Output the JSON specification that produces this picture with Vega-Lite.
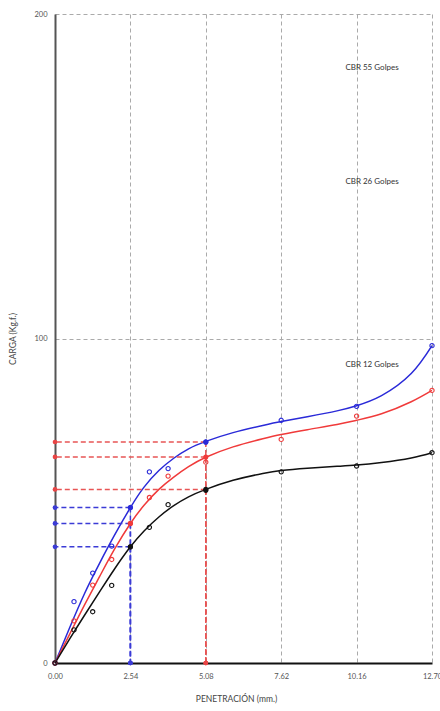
{
  "$schema": "https://vega.github.io/schema/vega-lite/v6.json",
  "autosize": "none",
  "width": 377,
  "height": 649,
  "padding": {"left": 55, "top": 14, "right": 8, "bottom": 48},
  "background": "white",
  "config": {
    "font": "Lato",
    "view": {"stroke": null},
    "axis": {"labelFont": "Lato", "titleFont": "Lato", "labelFontSize": 7.5, "titleFontSize": 8.5, "labelColor": "#555", "titleColor": "#444", "titleFontWeight": "normal", "ticks": false, "gridDash": [4, 3], "gridColor": "#aaa", "gridWidth": 1}
  },
  "datasets": {
    "curva": [
      {"serie": "55 golpes", "x": 0, "carga": 0}, {"serie": "55 golpes", "x": 0.5, "carga": 11}, {"serie": "55 golpes", "x": 1.0, "carga": 21.5}, {"serie": "55 golpes", "x": 1.5, "carga": 30.7}, {"serie": "55 golpes", "x": 2.0, "carga": 39.3}, {"serie": "55 golpes", "x": 2.54, "carga": 47.9}, {"serie": "55 golpes", "x": 3.0, "carga": 54.2}, {"serie": "55 golpes", "x": 3.5, "carga": 59.3}, {"serie": "55 golpes", "x": 4.0, "carga": 63.1}, {"serie": "55 golpes", "x": 4.5, "carga": 66}, {"serie": "55 golpes", "x": 5.08, "carga": 68.3}, {"serie": "55 golpes", "x": 6.0, "carga": 71}, {"serie": "55 golpes", "x": 7.0, "carga": 73.2}, {"serie": "55 golpes", "x": 7.62, "carga": 74.4}, {"serie": "55 golpes", "x": 8.5, "carga": 75.9}, {"serie": "55 golpes", "x": 9.5, "carga": 77.7}, {"serie": "55 golpes", "x": 10.16, "carga": 79.3}, {"serie": "55 golpes", "x": 11.0, "carga": 82.4}, {"serie": "55 golpes", "x": 12.0, "carga": 89.2}, {"serie": "55 golpes", "x": 12.7, "carga": 97.8},
      {"serie": "26 golpes", "x": 0, "carga": 0}, {"serie": "26 golpes", "x": 0.5, "carga": 9}, {"serie": "26 golpes", "x": 1.0, "carga": 18}, {"serie": "26 golpes", "x": 1.5, "carga": 26.6}, {"serie": "26 golpes", "x": 2.0, "carga": 35}, {"serie": "26 golpes", "x": 2.54, "carga": 43}, {"serie": "26 golpes", "x": 3.0, "carga": 48.6}, {"serie": "26 golpes", "x": 3.5, "carga": 53.5}, {"serie": "26 golpes", "x": 4.0, "carga": 57.3}, {"serie": "26 golpes", "x": 4.5, "carga": 60.5}, {"serie": "26 golpes", "x": 5.08, "carga": 63.4}, {"serie": "26 golpes", "x": 6.0, "carga": 66.6}, {"serie": "26 golpes", "x": 7.0, "carga": 69.1}, {"serie": "26 golpes", "x": 7.62, "carga": 70.4}, {"serie": "26 golpes", "x": 8.5, "carga": 71.9}, {"serie": "26 golpes", "x": 9.5, "carga": 73.5}, {"serie": "26 golpes", "x": 10.16, "carga": 74.8}, {"serie": "26 golpes", "x": 11.0, "carga": 76.8}, {"serie": "26 golpes", "x": 12.0, "carga": 80.5}, {"serie": "26 golpes", "x": 12.7, "carga": 84},
      {"serie": "12 golpes", "x": 0, "carga": 0}, {"serie": "12 golpes", "x": 0.5, "carga": 7.5}, {"serie": "12 golpes", "x": 1.0, "carga": 14.8}, {"serie": "12 golpes", "x": 1.5, "carga": 21.9}, {"serie": "12 golpes", "x": 2.0, "carga": 28.9}, {"serie": "12 golpes", "x": 2.54, "carga": 35.8}, {"serie": "12 golpes", "x": 3.0, "carga": 40.7}, {"serie": "12 golpes", "x": 3.5, "carga": 45}, {"serie": "12 golpes", "x": 4.0, "carga": 48.5}, {"serie": "12 golpes", "x": 4.5, "carga": 51.2}, {"serie": "12 golpes", "x": 5.08, "carga": 53.5}, {"serie": "12 golpes", "x": 6.0, "carga": 56.3}, {"serie": "12 golpes", "x": 7.0, "carga": 58.4}, {"serie": "12 golpes", "x": 7.62, "carga": 59.3}, {"serie": "12 golpes", "x": 8.5, "carga": 60}, {"serie": "12 golpes", "x": 9.5, "carga": 60.6}, {"serie": "12 golpes", "x": 10.16, "carga": 61}, {"serie": "12 golpes", "x": 11.0, "carga": 61.8}, {"serie": "12 golpes", "x": 12.0, "carga": 63.2}, {"serie": "12 golpes", "x": 12.7, "carga": 64.8}
    ],
    "obs": [
      {"serie": "55 golpes", "x": 0, "carga": 0}, {"serie": "55 golpes", "x": 0.64, "carga": 18.9}, {"serie": "55 golpes", "x": 1.27, "carga": 27.7}, {"serie": "55 golpes", "x": 1.91, "carga": 36}, {"serie": "55 golpes", "x": 2.54, "carga": 47.9}, {"serie": "55 golpes", "x": 3.18, "carga": 58.9}, {"serie": "55 golpes", "x": 3.81, "carga": 59.9}, {"serie": "55 golpes", "x": 5.08, "carga": 68.1}, {"serie": "55 golpes", "x": 7.62, "carga": 74.8}, {"serie": "55 golpes", "x": 10.16, "carga": 79.1}, {"serie": "55 golpes", "x": 12.7, "carga": 97.8},
      {"serie": "26 golpes", "x": 0, "carga": 0}, {"serie": "26 golpes", "x": 0.64, "carga": 13}, {"serie": "26 golpes", "x": 1.27, "carga": 24}, {"serie": "26 golpes", "x": 1.91, "carga": 31.9}, {"serie": "26 golpes", "x": 2.54, "carga": 43}, {"serie": "26 golpes", "x": 3.18, "carga": 51}, {"serie": "26 golpes", "x": 3.81, "carga": 57.6}, {"serie": "26 golpes", "x": 5.08, "carga": 61.9}, {"serie": "26 golpes", "x": 7.62, "carga": 68.9}, {"serie": "26 golpes", "x": 10.16, "carga": 76.1}, {"serie": "26 golpes", "x": 12.7, "carga": 84},
      {"serie": "12 golpes", "x": 0, "carga": 0}, {"serie": "12 golpes", "x": 0.64, "carga": 10.2}, {"serie": "12 golpes", "x": 1.27, "carga": 15.8}, {"serie": "12 golpes", "x": 1.91, "carga": 23.9}, {"serie": "12 golpes", "x": 2.54, "carga": 35.8}, {"serie": "12 golpes", "x": 3.18, "carga": 41.8}, {"serie": "12 golpes", "x": 3.81, "carga": 48.8}, {"serie": "12 golpes", "x": 5.08, "carga": 53.2}, {"serie": "12 golpes", "x": 7.62, "carga": 58.9}, {"serie": "12 golpes", "x": 10.16, "carga": 60.7}, {"serie": "12 golpes", "x": 12.7, "carga": 64.8}
    ],
    "lecturas": [
      {"serie": "55 golpes", "lectura": 2.54, "carga": 47.9}, {"serie": "26 golpes", "lectura": 2.54, "carga": 43}, {"serie": "12 golpes", "lectura": 2.54, "carga": 35.8},
      {"serie": "55 golpes", "lectura": 5.08, "carga": 68.1}, {"serie": "26 golpes", "lectura": 5.08, "carga": 63.5}, {"serie": "12 golpes", "lectura": 5.08, "carga": 53.5}
    ],
    "etiquetas": [
      {"texto": "CBR 55 Golpes", "x": 10.68, "carga": 183.4}, {"texto": "CBR 26 Golpes", "x": 10.68, "carga": 148.3}, {"texto": "CBR 12 Golpes", "x": 10.68, "carga": 91.7}
    ]
  },
  "layer": [
    {
      "data": {"name": "curva"},
      "mark": {"type": "line", "interpolate": "natural", "strokeWidth": 1.5},
      "encoding": {
        "x": {"field": "x", "type": "quantitative", "scale": {"domain": [0, 12.7], "nice": false, "zero": false},
          "axis": {"title": "PENETRACIÓN (mm.)", "values": [0, 2.54, 5.08, 7.62, 10.16, 12.7], "format": ".2f", "grid": true, "domainColor": "#111", "domainWidth": 2, "labelPadding": 9, "labelFlush": false, "titlePadding": 15, "titleX": 181}},
        "y": {"field": "carga", "type": "quantitative", "scale": {"domain": [0, 200], "nice": false},
          "axis": {"title": "CARGA  (Kg.f.)", "values": [0, 100, 200], "grid": true, "domainColor": "#555", "domainWidth": 2, "labelPadding": 8, "titlePadding": 16}},
        "color": {"field": "serie", "type": "nominal", "scale": {"domain": ["55 golpes", "26 golpes", "12 golpes"], "range": ["#2a2ad8", "#f03a3a", "#111111"]}, "legend": null},
        "detail": {"field": "serie"}
      }
    },
    {
      "data": {"name": "lecturas"},
      "mark": {"type": "rule", "strokeDash": [5, 3], "strokeWidth": 1.5},
      "encoding": {
        "x": {"field": "lectura", "type": "quantitative"},
        "x2": {"datum": 0},
        "y": {"field": "carga", "type": "quantitative"},
        "color": {"condition": {"test": "datum.lectura < 3", "value": "#3b3bd6"}, "value": "#e85555"}
      }
    },
    {
      "data": {"name": "lecturas"},
      "mark": {"type": "rule", "strokeDash": [5, 3], "strokeWidth": 1.5},
      "encoding": {
        "x": {"field": "lectura", "type": "quantitative"},
        "y": {"field": "carga", "type": "quantitative"},
        "y2": {"datum": 0},
        "color": {"condition": {"test": "datum.lectura < 3", "value": "#3b3bd6"}, "value": "#e85555"}
      }
    },
    {
      "data": {"name": "lecturas"},
      "mark": {"type": "point", "filled": true, "size": 22, "opacity": 1},
      "encoding": {
        "x": {"datum": 0, "type": "quantitative"},
        "y": {"field": "carga", "type": "quantitative"},
        "color": {"condition": {"test": "datum.lectura < 3", "value": "#3b3bd6"}, "value": "#e84545"}
      }
    },
    {
      "data": {"name": "lecturas"},
      "mark": {"type": "point", "filled": true, "size": 22, "opacity": 1},
      "encoding": {
        "x": {"field": "lectura", "type": "quantitative"},
        "y": {"datum": 0, "type": "quantitative"},
        "color": {"condition": {"test": "datum.lectura < 3", "value": "#3b3bd6"}, "value": "#e84545"}
      }
    },
    {
      "data": {"name": "obs"},
      "mark": {"type": "point", "filled": false, "size": 18, "strokeWidth": 1.1, "opacity": 1},
      "encoding": {
        "x": {"field": "x", "type": "quantitative"},
        "y": {"field": "carga", "type": "quantitative"},
        "color": {"field": "serie", "type": "nominal", "legend": null}
      }
    },
    {
      "data": {"name": "lecturas"},
      "mark": {"type": "point", "filled": true, "size": 26, "opacity": 1},
      "encoding": {
        "x": {"field": "lectura", "type": "quantitative"},
        "y": {"field": "carga", "type": "quantitative"},
        "color": {"field": "serie", "type": "nominal", "legend": null}
      }
    },
    {
      "data": {"name": "etiquetas"},
      "mark": {"type": "text", "fontSize": 8, "color": "#333", "align": "center", "baseline": "middle"},
      "encoding": {
        "x": {"field": "x", "type": "quantitative"},
        "y": {"field": "carga", "type": "quantitative"},
        "text": {"field": "texto"}
      }
    }
  ]
}
